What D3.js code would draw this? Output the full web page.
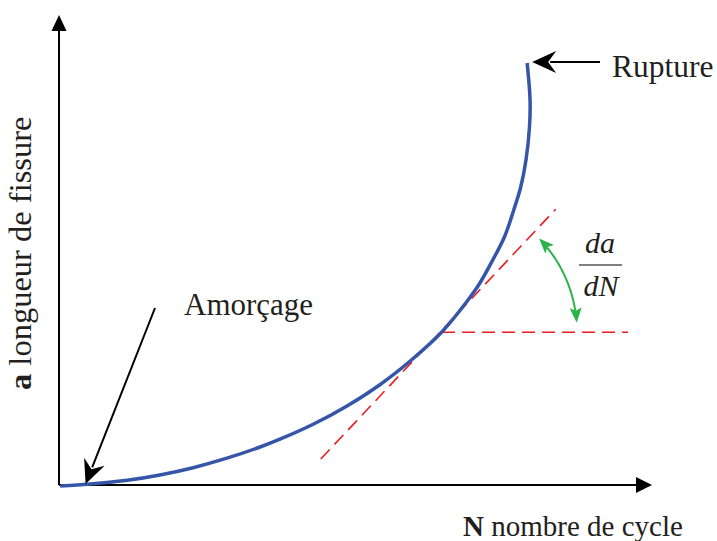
<!DOCTYPE html>
<html>
<head>
<meta charset="utf-8">
<script src="https://cdn.jsdelivr.net/npm/d3@7"></script>
<style>
  html, body { margin: 0; padding: 0; background: #fff; }
  svg text { font-family: "Liberation Serif", "Times New Roman", serif; fill: #231f20; }
</style>
</head>
<body>
<svg id="chart" width="717" height="541"></svg>
<script>
// Crack growth curve: crack length a versus number of cycles N (arbitrary units)
const cycles = [0.2, 5.3, 11.7, 17.3, 23.0, 28.8, 34.5, 37.9, 43.6, 49.4, 55.1, 60.7, 65.7,
                69.9, 72.2, 74.4, 76.4, 78.0, 79.2, 80.1, 80.7, 80.8, 80.3];
const crackLength = [0, 0.43, 1.22, 2.36, 3.93, 5.97, 8.37, 10.04, 13.24, 17.17, 21.78, 27.3, 33.09,
                     39.48, 43.56, 48.5, 53.43, 59.23, 64.16, 69.96, 77.04, 82.83, 90.77];

// Tangent to the curve at the tangent point, and the horizontal reference
const tangentN = [44.9, 85.2];
const tangentA = [5.8, 59.4];
const horizN = [65.7, 97.6];
const horizA = [33.0, 33.0];
const tangentPoint = { n: 65.7, a: 33.0 };

// Annotated points
const initiation = { n: 4.9, a: 0.2, label: "Amorçage" };
const rupture = { n: 80.3, a: 90.77, label: "Rupture" };

const svg = d3.select("#chart");
const x = d3.scaleLinear().domain([0, 100]).range([59, 642]);
const y = d3.scaleLinear().domain([0, 100]).range([486, 20]);

// Filled arrowhead with a notched back; tip at (tx, ty), pointing along angle
function arrowHead(g, tx, ty, angle, len, halfW, notch, color) {
  const c = Math.cos(angle), s = Math.sin(angle);
  const pt = (u, v) => [tx + u * c - v * s, ty + u * s + v * c];
  const pts = [pt(0, 0), pt(-len, -halfW), pt(-len + notch, 0), pt(-len, halfW)];
  g.append("path")
    .attr("d", "M" + pts.map(p => p.join(",")).join("L") + "Z")
    .attr("fill", color);
}

// Axes
const axes = svg.append("g");
const x0 = x(0), y0 = y(0) - 1;
axes.append("line").attr("x1", x0).attr("y1", y0).attr("x2", 640).attr("y2", y0)
  .attr("stroke", "#000").attr("stroke-width", 2);
axes.append("line").attr("x1", x0).attr("y1", y0).attr("x2", x0).attr("y2", 28)
  .attr("stroke", "#000").attr("stroke-width", 2);
arrowHead(axes, 652, y0, 0, 16, 8, 0, "#000");
arrowHead(axes, x0, 15, -Math.PI / 2, 16, 7.5, 0, "#000");

// Axis titles
const xt = svg.append("text").attr("x", 463).attr("y", 536).attr("font-size", 29);
xt.append("tspan").attr("font-weight", "bold").text("N");
xt.append("tspan").text(" nombre de cycle");

const yt = svg.append("text")
  .attr("transform", "translate(31,390) rotate(-90)")
  .attr("font-size", 32.5);
yt.append("tspan").attr("font-weight", "bold").text("a");
yt.append("tspan").text(" longueur de fissure");

// Reference lines (dashed red)
const dash = "13,7";
svg.append("line")
  .attr("x1", x(tangentN[0])).attr("y1", y(tangentA[0]))
  .attr("x2", x(tangentN[1])).attr("y2", y(tangentA[1]))
  .attr("stroke", "#ec1c24").attr("stroke-width", 1.6).attr("stroke-dasharray", dash);
svg.append("line")
  .attr("x1", x(horizN[0])).attr("y1", y(horizA[0]))
  .attr("x2", x(horizN[1])).attr("y2", y(horizA[1]))
  .attr("stroke", "#ec1c24").attr("stroke-width", 1.6).attr("stroke-dasharray", dash);

// Crack growth curve
const line = d3.line()
  .x((d, i) => x(cycles[i]))
  .y((d, i) => y(crackLength[i]))
  .curve(d3.curveCatmullRom.alpha(0.5));
svg.append("path")
  .datum(cycles)
  .attr("d", line)
  .attr("fill", "none")
  .attr("stroke", "#3556a8")
  .attr("stroke-width", 3.5)
  .attr("stroke-linecap", "butt");

// Slope angle marker: double-headed green arc around the tangent point
const green = "#2bb34b";
const cx = x(tangentPoint.n), cy = y(tangentPoint.a), r = 135;
const thTop = 44 * Math.PI / 180, thBot = 4 * Math.PI / 180;
const headLen = 15;
const dTh = headLen * 0.8 / r;
const arcPts = d3.range(0, 41).map(k => {
  const th = (thBot + dTh) + (thTop - dTh - thBot - dTh) * k / 40;
  return [cx + r * Math.cos(th), cy - r * Math.sin(th)];
});
svg.append("path").attr("d", d3.line()(arcPts))
  .attr("fill", "none").attr("stroke", green).attr("stroke-width", 2);
const gArc = svg.append("g");
arrowHead(gArc, cx + r * Math.cos(thTop), cy - r * Math.sin(thTop),
  Math.atan2(-Math.cos(thTop), -Math.sin(thTop)), headLen, 6, 3, green);
arrowHead(gArc, cx + r * Math.cos(thBot), cy - r * Math.sin(thBot),
  Math.atan2(Math.cos(thBot), Math.sin(thBot)), headLen, 6, 3, green);

// da/dN fraction
const fx = 600;
svg.append("text").attr("x", fx).attr("y", 253).attr("text-anchor", "middle")
  .attr("font-size", 30).attr("font-style", "italic").text("da");
svg.append("line").attr("x1", 579).attr("x2", 622).attr("y1", 265).attr("y2", 265)
  .attr("stroke", "#555").attr("stroke-width", 1.5);
svg.append("text").attr("x", fx + 1).attr("y", 296).attr("text-anchor", "middle")
  .attr("font-size", 30).attr("font-style", "italic").text("dN");

// Annotation arrows
const ann = svg.append("g");
function annotate(fromX, fromY, toX, toY) {
  const ang = Math.atan2(toY - fromY, toX - fromX);
  const back = 18;
  ann.append("line").attr("x1", fromX).attr("y1", fromY)
    .attr("x2", toX - back * Math.cos(ang)).attr("y2", toY - back * Math.sin(ang))
    .attr("stroke", "#000").attr("stroke-width", 2);
  arrowHead(ann, toX, toY, ang, 24, 11, 8, "#000");
}
annotate(600, 62, x(rupture.n) + 5, y(rupture.a) - 1);
annotate(155, 308, x(initiation.n) - 2, y(initiation.a) - 1);

svg.append("text").attr("x", 612).attr("y", 77).attr("font-size", 31.5).text(rupture.label);
svg.append("text").attr("x", 184).attr("y", 315).attr("font-size", 31).text(initiation.label);
</script>
</body>
</html>
